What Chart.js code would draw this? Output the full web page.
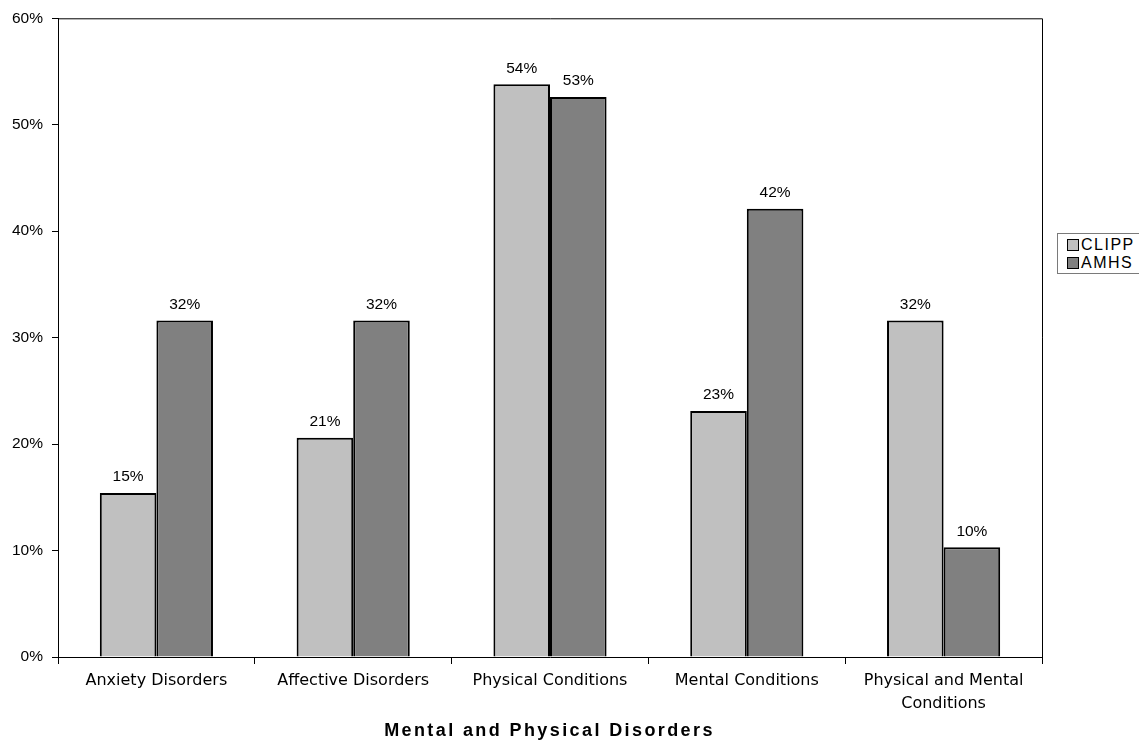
<!DOCTYPE html>
<html>
<head>
<meta charset="utf-8">
<script src="https://cdn.jsdelivr.net/npm/chart.js@4.4.1/dist/chart.umd.min.js"></script>
<style>
  html, body { margin: 0; padding: 0; background: #fff; overflow: hidden; }
  #wrap { position: relative; width: 1139px; height: 751px; overflow: hidden; }
  #chart { position: absolute; left: 0; top: 0; }
  #legend {
    position: absolute; left: 1057px; top: 233px; width: 130px; height: 41px;
    border: 1px solid #7a7a7a; box-sizing: border-box; background: #fff;
    font-family: "Liberation Sans", Arial, sans-serif; font-size: 16px; letter-spacing: 1.5px; color: #000;
  }
  .item { position: absolute; left: 9px; height: 18px; line-height: 18px; white-space: nowrap; }
  .sw { display: inline-block; width: 10px; height: 10px; border: 1.5px solid #000; vertical-align: -1px; margin-right: 2px; }
  #xtitle {
    position: absolute; left: 58px; width: 983px; top: 720px; text-align: center;
    font-family: "Liberation Sans", Arial, sans-serif; font-weight: bold; font-size: 18px; letter-spacing: 2.4px; color: #000;
  }
</style>
</head>
<body>
<div id="wrap">
  <canvas id="chart" width="1139" height="751"></canvas>
  <div id="legend"></div>
  <div id="xtitle">Mental and Physical Disorders</div>
</div>
<script>
// Disorder categories on the x axis
const categories = [
  'Anxiety Disorders',
  'Affective Disorders',
  'Physical Conditions',
  'Mental Conditions',
  ['Physical and Mental', 'Conditions']
];
// Share of each sample with the disorder, in percent
const clippValues = [15.4, 20.6, 53.8, 23.1, 31.6];
const amhsValues  = [31.6, 31.6, 52.6, 42.1, 10.3];
// Y axis tick values (percent)
const yTicks = [0, 10, 20, 30, 40, 50, 60];

const seriesNames = ['CLIPP', 'AMHS'];
const seriesColors = ['#c0c0c0', '#808080'];

const valueLabels = {
  id: 'valueLabels',
  afterDatasetsDraw(chart) {
    const ctx = chart.ctx;
    ctx.save();
    ctx.font = '15.5px "Liberation Sans", Arial, sans-serif';
    ctx.fillStyle = '#000';
    ctx.textAlign = 'center';
    ctx.textBaseline = 'middle';
    chart.data.datasets.forEach((ds, i) => {
      chart.getDatasetMeta(i).data.forEach((bar, j) => {
        ctx.fillText(Math.round(ds.data[j]) + '%', bar.x, bar.y - 16);
      });
    });
    ctx.restore();
  }
};

// Closes the plot frame on the top and right sides
const frame = {
  id: 'frame',
  afterDraw(chart) {
    const { left, top, right, bottom } = chart.chartArea;
    const ctx = chart.ctx;
    ctx.save();
    ctx.strokeStyle = '#000';
    ctx.lineWidth = 1;
    ctx.beginPath();
    ctx.moveTo(left, top + 0.5);
    ctx.lineTo(right + 0.5, top + 0.5);
    ctx.lineTo(right + 0.5, bottom);
    ctx.stroke();
    ctx.restore();
  }
};

const chart = new Chart(document.getElementById('chart'), {
  type: 'bar',
  data: {
    labels: categories,
    datasets: [
      { label: seriesNames[0], data: clippValues, backgroundColor: seriesColors[0], borderColor: '#000', borderWidth: 2,
        categoryPercentage: 0.575, barPercentage: 1.0 },
      { label: seriesNames[1], data: amhsValues, backgroundColor: seriesColors[1], borderColor: '#000', borderWidth: 2,
        categoryPercentage: 0.575, barPercentage: 1.0 }
    ]
  },
  options: {
    responsive: false,
    animation: false,
    devicePixelRatio: 1,
    layout: { padding: { top: 18, right: 97, left: 0, bottom: 0 } },
    plugins: { legend: { display: false }, tooltip: { enabled: false } },
    scales: {
      x: {
        grid: { offset: true, drawOnChartArea: false, drawTicks: true, tickLength: 7, color: '#000', lineWidth: 1 },
        border: { display: true, color: '#000', width: 1 },
        ticks: {
          color: '#000', padding: 6, maxRotation: 0, autoSkip: false,
          font: { family: '"DejaVu Sans", Verdana, sans-serif', size: 16, lineHeight: 1.4 }
        },
        afterFit(scale) { scale.height = 94; }
      },
      y: {
        min: 0, max: 60,
        afterBuildTicks(scale) { scale.ticks = yTicks.map(v => ({ value: v })); },
        grid: { drawOnChartArea: false, drawTicks: true, tickLength: 6, color: '#000', lineWidth: 1 },
        border: { display: true, color: '#000', width: 1 },
        ticks: {
          color: '#000', padding: 9,
          font: { family: '"Liberation Sans", Arial, sans-serif', size: 15.5 },
          callback: v => v + '%'
        },
        afterFit(scale) { scale.width = 58; }
      }
    }
  },
  plugins: [valueLabels, frame]
});

// Legend entries
const legend = document.getElementById('legend');
seriesNames.forEach((name, i) => {
  const row = document.createElement('div');
  row.className = 'item';
  row.style.top = (2 + i * 18) + 'px';
  row.innerHTML = '<span class="sw" style="background:' + seriesColors[i] + '"></span>' + name;
  legend.appendChild(row);
});
</script>
</body>
</html>
